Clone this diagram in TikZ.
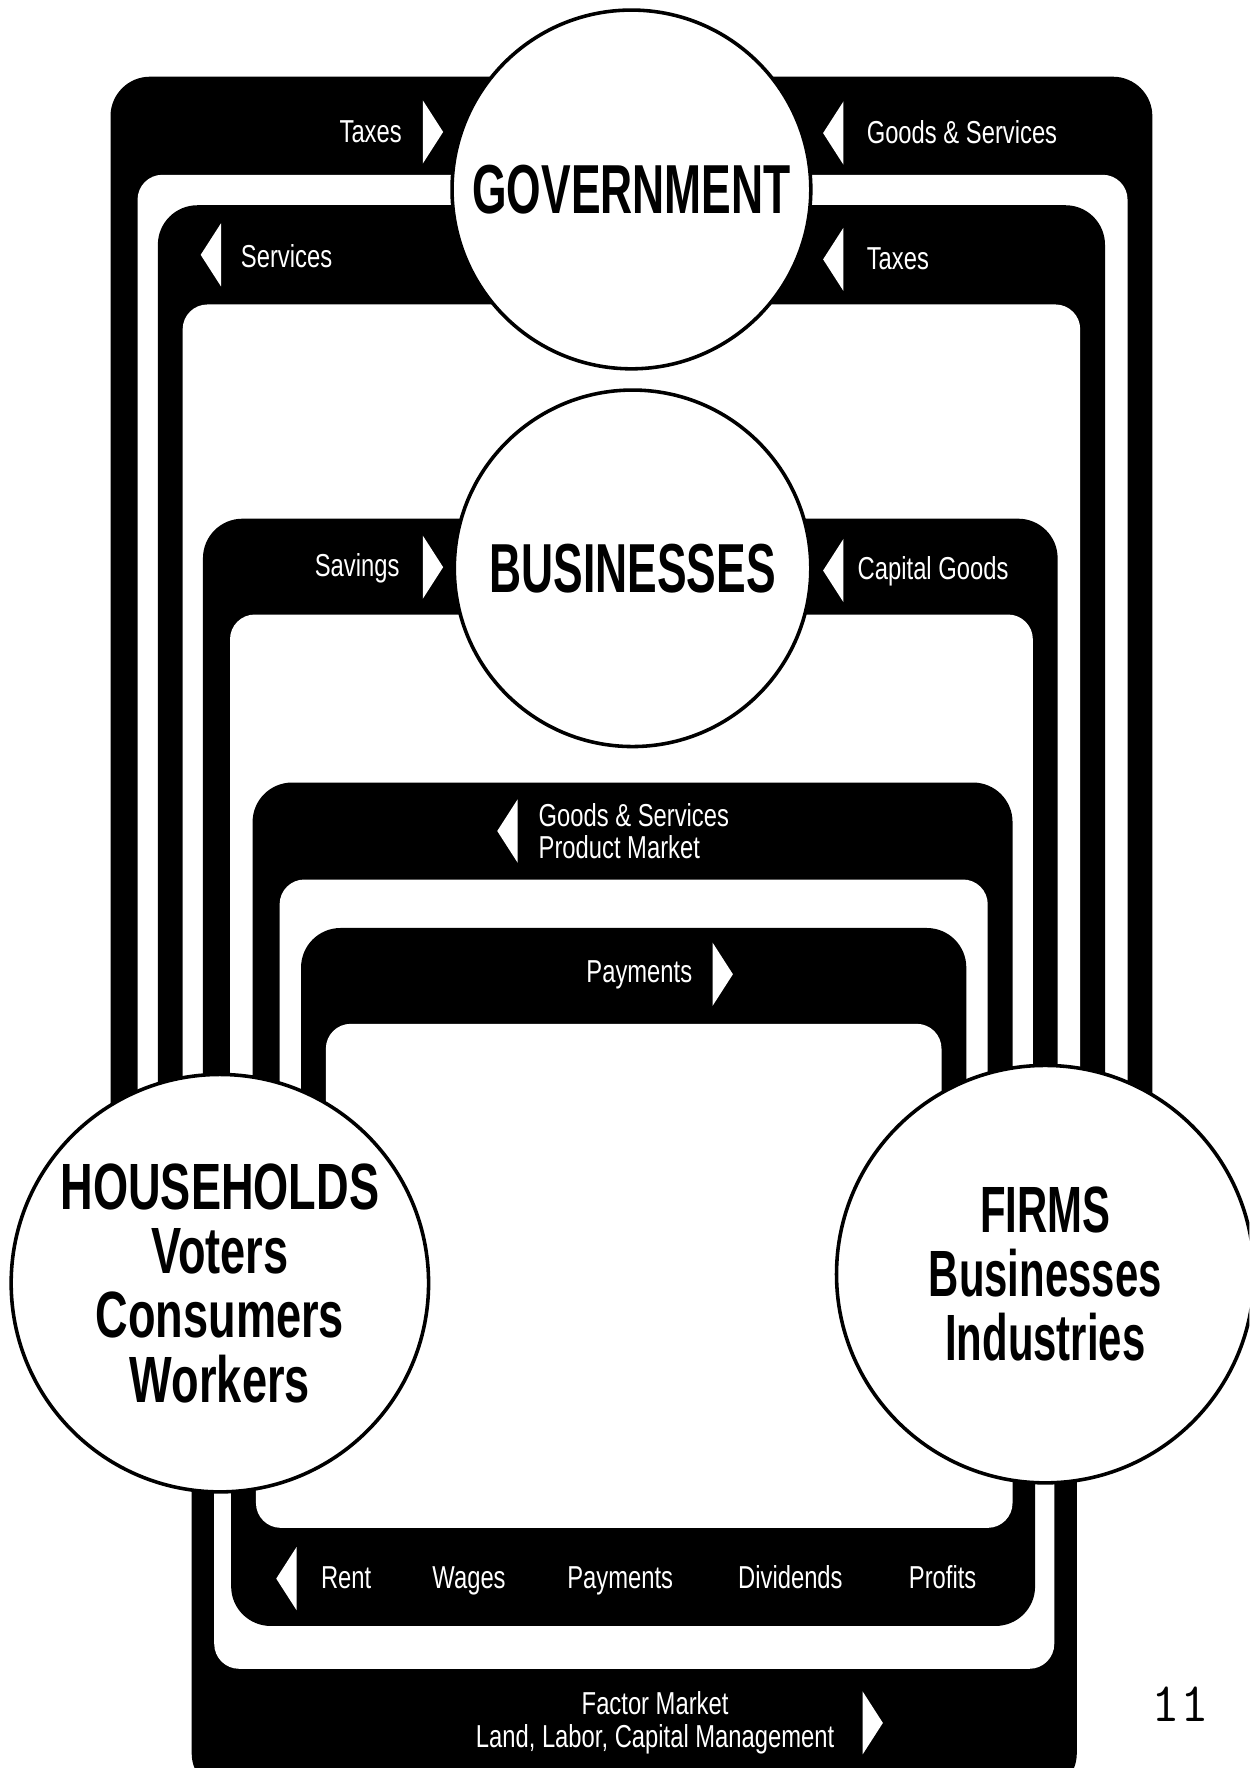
\documentclass[tikz,border=0pt]{standalone}
\usepackage{fontspec}
\newfontfamily\bandfont{Liberation Sans}[FakeStretch=0.75]
\newfontfamily\hubfont{Liberation Sans}[FakeStretch=0.64]
\newfontfamily\hhfont{Liberation Sans}[FakeStretch=0.69]
\tikzset{
  band/.style={fill=black, rounded corners=3.5mm},
  hole/.style={fill=white, rounded corners=2.2mm},
  hub/.style={circle, draw, fill=white, line width=0.9pt, inner sep=0pt, align=center,
    font=\hubfont\bfseries\fontsize{17.5}{17}\selectfont},
  flow/.style={text=white, inner sep=0pt, font=\bandfont\fontsize{8}{8.2}\selectfont},
  arrR/.pic={\fill[white] (0,-28) -- (18,0) -- (0,28) -- cycle;},
  arrL/.pic={\fill[white] (0,-28) -- (-18,0) -- (0,28) -- cycle;},
}
\begin{document}
\begin{tikzpicture}[x=0.01cm, y=-0.01cm]
\useasboundingbox (0,0) rectangle (1108,1568);
\clip (0,0) rectangle (1108,1568);
% upper loops, outside in
\foreach \oL/\oT/\oR/\iL/\iT/\iR in {98/68/1022/122/155/1000, 140/182/980/162/270/958,
    180/460/938/204/545/916, 224/694/898/248/780/876, 267/823/857/289/908/835} {
  \fill[band] (\oL,1130) |- (\oR,\oT) -- (\oR,1130) -- cycle;
  \fill[hole] (\iL,1130) |- (\iR,\iT) -- (\iR,1130) -- cycle;
}
% lower loops
\foreach \oL/\oB/\oR/\iL/\iB/\iR in {170/1590/955/190/1480/935, 205/1442/918/227/1355/898} {
  \fill[band] (\oL,1130) |- (\oR,\oB) -- (\oR,1130) -- cycle;
  \fill[hole] (\iL,1130) |- (\iR,\iB) -- (\iR,1130) -- cycle;
}

% government loops
\node[flow, anchor=base east] (taxin) at (357,126) {Taxes};
\pic at (375,117) {arrR};
\pic at (748,118) {arrL};
\node[flow, anchor=base west] (govgoods) at (768,127) {Goods \& Services};
\pic at (196,226) {arrL};
\node[flow, anchor=base west] (govserv) at (213,237) {Services};
\pic at (748,230) {arrL};
\node[flow, anchor=base west] (taxfirm) at (768,239) {Taxes};

% capital market
\node[flow, anchor=base east] (sav) at (355,511) {Savings};
\pic at (375,503) {arrR};
\pic at (748,506) {arrL};
\node[flow, anchor=base west] (capgoods) at (760,514) {Capital Goods};

% product market
\pic at (459,737) {arrL};
\node[flow, anchor=west, align=left] (prodmkt) at (477,737) {Goods \& Services\\Product Market};
\node[flow, anchor=base] (paym) at (567,871) {Payments};
\pic at (632,864) {arrR};

% factor market
\pic at (263,1400) {arrL};
\foreach \xx/\nm/\txt in {307/rent/Rent, 416/wages/Wages, 550/payf/Payments, 701/divs/Dividends, 836/profits/Profits}
  \node[flow, anchor=base] (\nm) at (\xx,1409) {\txt};
\node[flow, align=center] (factmkt) at (581,1528) {Factor Market\\Land, Labor, Capital Management};
\pic at (765,1528) {arrR};

% sectors
\node[hub, minimum size=3.18cm] (gov) at (560,168) {GOVERNMENT};
\node[hub, minimum size=3.16cm] (bus) at (561,504) {BUSINESSES};
\node[hub, minimum size=3.7cm, font=\hhfont\bfseries\fontsize{16.5}{16.2}\selectfont] (hh) at (195,1138)
  {HOUSEHOLDS\\Voters\\Consumers\\Workers};
\node[hub, minimum size=3.7cm, font=\hubfont\bfseries\fontsize{16.5}{16.2}\selectfont] (firms) at (927,1130)
  {FIRMS\\Businesses\\Industries};

\node[font=\ttfamily\fontsize{14}{14}\selectfont] (pageno) at (1047,1511) {11};
\end{tikzpicture}
\end{document}
